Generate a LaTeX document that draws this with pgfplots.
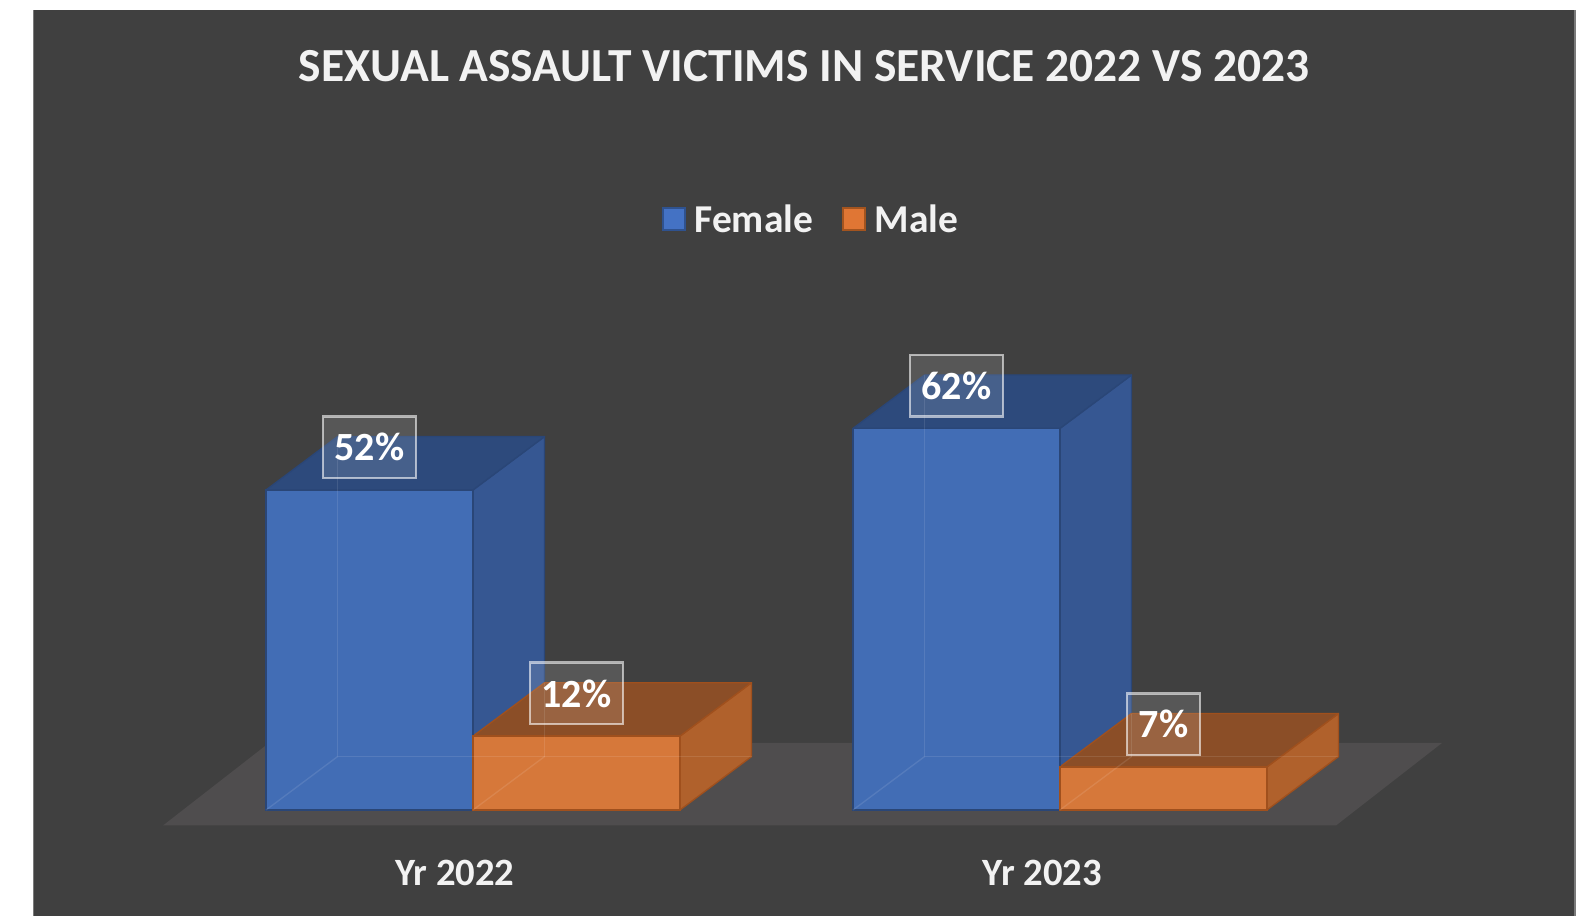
\documentclass[border=0pt]{standalone}
\usepackage{fontspec}
\setmainfont{Carlito}
\usepackage{pgfplots}
\pgfplotsset{compat=1.18}
\definecolor{bg}{HTML}{404040}
\definecolor{floorgray}{HTML}{4F4D4E}
\definecolor{framegray}{HTML}{7A7A7A}
\definecolor{txt}{HTML}{F2F2F2}
\definecolor{bfront}{HTML}{426DB5}
\definecolor{bside}{HTML}{365792}
\definecolor{btop}{HTML}{2D4A7C}
\definecolor{bedge}{HTML}{2A4677}
\definecolor{ofront}{HTML}{D6783A}
\definecolor{oside}{HTML}{B0612C}
\definecolor{otop}{HTML}{8B4E27}
\definecolor{oedge}{HTML}{A0501D}
\definecolor{legb}{HTML}{4472C4}
\definecolor{legbe}{HTML}{2F528F}
\definecolor{lego}{HTML}{E07634}
\definecolor{legoe}{HTML}{A3541F}
\begin{document}
\begin{tikzpicture}
\fill[white] (-25pt,0) rectangle (1159.3pt,687pt);
\begin{axis}[
  at={(0,0)}, anchor=south west,
  x=440.25pt, y=4.61625pt,
  xmin=-0.7491, xmax=1.8773, ymin=-17.222, ymax=129.98,
  enlargelimits=false,
  clip=false,
  axis background/.style={fill=bg},
  separate axis lines,
  x axis line style={draw=none},
  y axis line style={draw=framegray, line width=0.9pt},
  ytick=\empty,
  xtick={-0.0307,0.9699},
  xticklabels={Yr 2022,Yr 2023},
  major tick length=0pt,
  xticklabel style={anchor=center, yshift=32.5pt, text=txt,
    font=\fontsize{29}{32}\selectfont\bfseries},
  title={SEXUAL ASSAULT VICTIMS IN SERVICE 2022 VS 2023},
  title style={at={(0.5,0.9294)}, anchor=center, text=txt,
    font=\fontsize{35.6}{40}\selectfont\bfseries},
  legend columns=2,
  legend style={at={(0.5048,0.7688)}, anchor=center, draw=none, fill=none,
    text=txt, font=\fontsize{29.6}{34}\selectfont\bfseries,
    /tikz/every even column/.append style={column sep=20pt}},
]
% floor
\addplot[forget plot, fill=floorgray, draw=none]
  coordinates {(-0.5281,-2.52) (1.4702,-2.52) (1.6508,10.89) (-0.3475,10.89)} -- cycle;
% side faces
\addplot[forget plot, fill=bside, draw=bedge, line width=1pt, line join=round]
  coordinates {(0,0) (0,52) (0.1218,60.67) (0.1218,8.67)} -- cycle;
\addplot[forget plot, fill=oside, draw=oedge, line width=1pt, line join=round]
  coordinates {(0.3526,0) (0.3526,12) (0.4744,20.67) (0.4744,8.67)} -- cycle;
\addplot[forget plot, fill=bside, draw=bedge, line width=1pt, line join=round]
  coordinates {(1,0) (1,62) (1.1218,70.67) (1.1218,8.67)} -- cycle;
\addplot[forget plot, fill=oside, draw=oedge, line width=1pt, line join=round]
  coordinates {(1.3526,0) (1.3526,7) (1.4744,15.67) (1.4744,8.67)} -- cycle;
% top faces
\addplot[forget plot, fill=btop, draw=bedge, line width=1pt, line join=round]
  coordinates {(-0.3526,52) (0,52) (0.1218,60.67) (-0.2308,60.67)} -- cycle;
\addplot[forget plot, fill=otop, draw=oedge, line width=1pt, line join=round]
  coordinates {(0,12) (0.3526,12) (0.4744,20.67) (0.1218,20.67)} -- cycle;
\addplot[forget plot, fill=btop, draw=bedge, line width=1pt, line join=round]
  coordinates {(0.6474,62) (1,62) (1.1218,70.67) (0.7692,70.67)} -- cycle;
\addplot[forget plot, fill=otop, draw=oedge, line width=1pt, line join=round]
  coordinates {(1,7) (1.3526,7) (1.4744,15.67) (1.1218,15.67)} -- cycle;
% front faces
\addplot[ybar, bar width=0.3526, bar shift=0pt, fill=bfront, draw=bedge, line width=1pt,
  legend image code/.code={\draw[fill=legb, draw=legbe, line width=1.5pt] (0pt,-8.25pt) rectangle (16.5pt,8.25pt); \path (21pt,0pt);}]
  coordinates {(-0.1763,52) (0.8237,62)};
\addlegendentry{Female}
\addplot[ybar, bar width=0.3526, bar shift=0pt, fill=ofront, draw=oedge, line width=1pt,
  legend image code/.code={\draw[fill=lego, draw=legoe, line width=1.5pt] (0pt,-8.25pt) rectangle (16.5pt,8.25pt); \path (21pt,0pt);}]
  coordinates {(0.1763,12) (1.1763,7)};
\addlegendentry{Male}
% faint hidden back edges (transparent bars)
\addplot[forget plot, draw=white, draw opacity=0.10, line width=1pt]
  coordinates {(-0.2308,60.67) (-0.2308,8.67) (0.1218,8.67)};
\addplot[forget plot, draw=white, draw opacity=0.10, line width=1pt]
  coordinates {(-0.3526,0) (-0.2308,8.67)};
\addplot[forget plot, draw=white, draw opacity=0.10, line width=1pt]
  coordinates {(0.1218,20.67) (0.1218,8.67) (0.4744,8.67)};
\addplot[forget plot, draw=white, draw opacity=0.10, line width=1pt]
  coordinates {(0,0) (0.1218,8.67)};
\addplot[forget plot, draw=white, draw opacity=0.10, line width=1pt]
  coordinates {(0.7692,70.67) (0.7692,8.67) (1.1218,8.67)};
\addplot[forget plot, draw=white, draw opacity=0.10, line width=1pt]
  coordinates {(0.6474,0) (0.7692,8.67)};
\addplot[forget plot, draw=white, draw opacity=0.10, line width=1pt]
  coordinates {(1.1218,15.67) (1.1218,8.67) (1.4744,8.67)};
\addplot[forget plot, draw=white, draw opacity=0.10, line width=1pt]
  coordinates {(1,0) (1.1218,8.67)};
% data labels
\addplot[forget plot, only marks, mark=none, point meta=explicit symbolic,
  nodes near coords, nodes near coords align=center,
  nodes near coords style={anchor=center, yshift=32pt, text=white,
    font=\fontsize{30}{32}\selectfont\bfseries,
    draw=white, draw opacity=0.6, line width=2pt,
    fill=white, fill opacity=0.12, text opacity=1,
    inner xsep=8.75pt, inner ysep=0pt, minimum height=46pt}]
  coordinates {(-0.1763,52) [52\%] (0.1763,12) [12\%] (0.8237,62) [62\%] (1.1763,7) [7\%]};
\end{axis}
\end{tikzpicture}
\end{document}
